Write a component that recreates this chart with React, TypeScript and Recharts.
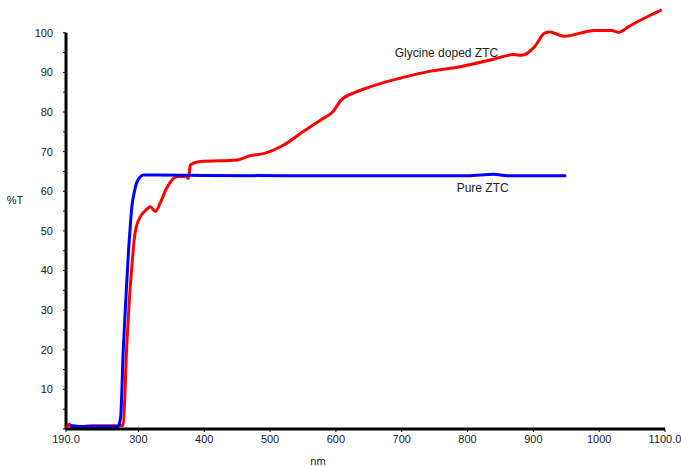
import { LineChart, Line, XAxis, YAxis, ReferenceLine, ReferenceDot } from "recharts";

// wavelength (nm) / transmittance (%T)
const dopedNm = [190, 195, 200, 230, 270, 277, 282, 286, 290, 295, 303, 310, 318, 326, 333, 343, 359, 372, 376, 379, 394, 450, 470, 490, 520, 547, 577, 595, 608, 630, 653, 680, 699, 740, 791, 841, 870, 882, 902, 917, 925, 946, 993, 1019, 1030, 1045, 1070, 1095];
const dopedT = [0, 1.2, 0.3, 0.8, 0.8, 1, 20, 32, 41, 49.5, 53.6, 55, 56.1, 54.9, 57, 60.8, 63.7, 63.8, 63.2, 66.7, 67.5, 67.9, 69, 69.5, 71.6, 74.7, 78, 80, 83, 85, 86.4, 87.8, 88.6, 90.2, 91.5, 93.4, 94.5, 94.3, 96.5, 99.9, 100.2, 99.1, 100.6, 100.6, 100.1, 101.6, 103.8, 105.8];

const pureNm = [196, 220, 269, 273, 277, 281, 285, 288, 290, 294, 298, 308, 330, 400, 600, 800, 840, 860, 950];
const pureT = [0.9, 0.6, 0.6, 3, 20, 33, 45, 52, 56, 60, 62.4, 64.1, 64.1, 64, 63.9, 63.9, 64.3, 63.9, 63.9];

const xTicks = [190, 300, 400, 500, 600, 700, 800, 900, 1000, 1100];
const yTicks = [0, 5, 10, 15, 20, 25, 30, 35, 40, 45, 50, 55, 60, 65, 70, 75, 80, 85, 90, 95, 100];

const doped = dopedNm.map((nm, i) => ({ nm, t: dopedT[i] }));
const pure = pureNm.map((nm, i) => ({ nm, t: pureT[i] }));

const font = "Liberation Sans, Arial, sans-serif";
const tickStyle = { fontSize: 11, fill: "#222", fontFamily: font };

const App = () => (
  <div style={{ position: "absolute", left: 0, top: 0, background: "#fff" }}>
    <LineChart width={681} height={466} margin={{ top: 9, right: 16, left: 0, bottom: 0 }}>
      <XAxis
        dataKey="nm"
        type="number"
        domain={[190, 1100]}
        ticks={xTicks}
        tickFormatter={(v) => (v === 190 || v === 1100 ? v.toFixed(1) : `${v}`)}
        tick={tickStyle}
        tickSize={3}
        tickMargin={3}
        height={37}
        stroke="#000"
        axisLine={{ stroke: "#000", strokeWidth: 3 }}
        allowDuplicatedCategory={false}
        label={{
          content: () => (
            <text x={318} y={465} textAnchor="middle" fontSize={11} fill="#222" fontFamily={font}>nm</text>
          ),
        }}
      />
      <YAxis
        type="number"
        domain={[0, 106]}
        ticks={yTicks}
        tickFormatter={(v) => (v % 10 === 0 && v !== 0 ? `${v}` : "")}
        tick={tickStyle}
        tickSize={3}
        tickMargin={10}
        width={66}
        stroke="#000"
        axisLine={false}
        label={{
          content: () => (
            <text x={15} y={204} textAnchor="middle" fontSize={11} fill="#222" fontFamily={font}>%T</text>
          ),
        }}
      />
      <ReferenceLine segment={[{ x: 190, y: 0 }, { x: 190, y: 100 }]} stroke="#000" strokeWidth={3} />
      <Line data={doped} dataKey="t" type="monotone" stroke="#ff0000" strokeWidth={3} dot={false} isAnimationActive={false} />
      <Line data={pure} dataKey="t" type="monotone" stroke="#0000ff" strokeWidth={3} dot={false} isAnimationActive={false} />
      <ReferenceDot x={768} y={94.9} r={0} fill="none" stroke="none"
        label={{ value: "Glycine doped ZTC", position: "center", fontSize: 12, fill: "#222", fontFamily: font }} />
      <ReferenceDot x={823} y={60.8} r={0} fill="none" stroke="none"
        label={{ value: "Pure ZTC", position: "center", fontSize: 12, fill: "#222", fontFamily: font }} />
    </LineChart>
  </div>
);

export default App;
